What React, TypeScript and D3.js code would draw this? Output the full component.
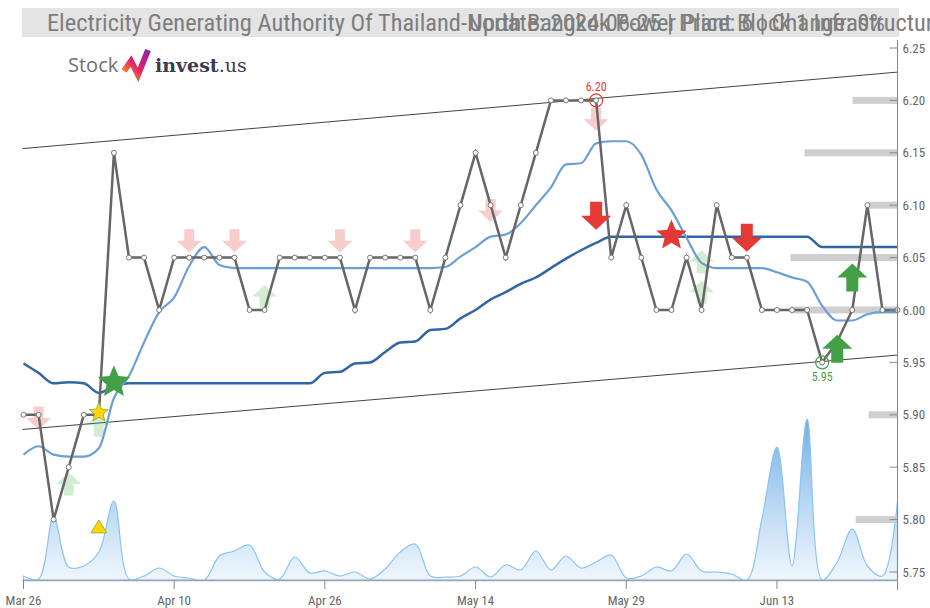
import { useEffect, useRef } from "react";
import * as d3 from "d3";

const W = 930;
const H = 608;

// trading-day index of each x tick, and its label
const tickDays = [0, 10, 20, 30, 40, 50];
const tickLabels = ["Mar 26", "Apr 10", "Apr 26", "May 14", "May 29", "Jun 13"];

const closes = [
  5.9, 5.9, 5.8, 5.85, 5.9, 5.9, 6.15, 6.05, 6.05, 6.0, 6.05, 6.05, 6.05, 6.05, 6.05,
  6.0, 6.0, 6.05, 6.05, 6.05, 6.05, 6.05, 6.0, 6.05, 6.05, 6.05, 6.05, 6.0, 6.05, 6.1,
  6.15, 6.1, 6.05, 6.1, 6.15, 6.2, 6.2, 6.2, 6.2, 6.05, 6.1, 6.05, 6.0, 6.0, 6.05,
  6.0, 6.1, 6.05, 6.05, 6.0, 6.0, 6.0, 6.0, 5.95, 5.97, 6.0, 6.1, 6.0, 6.0,
];

const fastMa = [
  5.862, 5.87, 5.862, 5.86, 5.86, 5.868, 5.916, 5.937, 5.969, 5.998, 6.012, 6.042, 6.06, 6.043, 6.04,
  6.04, 6.04, 6.04, 6.04, 6.04, 6.04, 6.04, 6.04, 6.04, 6.04, 6.04, 6.04, 6.04, 6.041, 6.051,
  6.06, 6.07, 6.072, 6.083, 6.1, 6.117, 6.139, 6.14, 6.159, 6.161, 6.161, 6.148, 6.115, 6.095, 6.069,
  6.045, 6.04, 6.04, 6.04, 6.04, 6.036, 6.031, 6.027, 6.004, 5.99, 5.99, 5.996, 5.998, 5.998,
];

const slowMa = [
  5.949, 5.94, 5.93, 5.931, 5.93, 5.921, 5.927, 5.93, 5.93, 5.93, 5.93, 5.93, 5.93, 5.93, 5.93,
  5.93, 5.93, 5.93, 5.93, 5.93, 5.94, 5.941, 5.949, 5.95, 5.96, 5.969, 5.97, 5.981, 5.982, 5.992,
  6.0, 6.01, 6.017, 6.025, 6.031, 6.04, 6.049, 6.057, 6.064, 6.07, 6.07, 6.07, 6.07, 6.07, 6.07,
  6.07, 6.07, 6.07, 6.07, 6.07, 6.07, 6.07, 6.07, 6.06, 6.06, 6.06, 6.06, 6.06, 6.06,
];

const volumes = [
  4000, 1000, 63000, 13000, 14000, 28000, 79000, 1000, 4000, 12000, 4000, 2000, 0, 24000, 29000,
  35000, 8000, 1000, 23000, 7000, 9000, 4000, 8000, 1000, 11000, 28000, 36000, 4000, 3000, 4000,
  13000, 3000, 15000, 10000, 29000, 10000, 24000, 12000, 18000, 25000, 2000, 4000, 13000, 9000, 26000,
  9000, 8000, 6000, 0, 61000, 133000, 14000, 161000, 0, 18000, 51000, 14000, 4000, 79000,
];

// trend channel: value at first and last day
const channelTop = [6.154, 6.227];
const channelBottom = [5.886, 5.957];

// support / resistance levels and their relative weight
const levels = [6.2, 6.15, 6.1, 6.05, 6.0, 5.9, 5.8];
const levelWeight = [0.42, 0.87, 0.27, 1.0, 1.0, 0.27, 0.39];

// signals: [day index, value]
const weakSell = [[1, 5.897], [11, 6.066], [14, 6.066], [21, 6.066], [26, 6.066], [31, 6.095], [38, 6.182]];
const weakBuy = [[3, 5.834], [5, 5.89], [16, 6.013], [45, 6.046], [45, 6.017]];
const strongSell = [[38, 6.09], [48, 6.069]];
const strongBuy = [[54, 5.963], [55, 6.031]];
const redStar = [[43, 6.071]];
const greenStar = [[6, 5.931]];
const yellowStar = [[5, 5.902]];
const yellowTriangle = [[5, 5.793]];
const highMark = [38, 6.2];
const lowMark = [53, 5.95];

const font = "'Liberation Sans Narrow', 'Roboto Condensed', 'Liberation Sans', Arial, sans-serif";

function arrowDown(w: number, h: number) {
  const s = w * 0.2;
  return `M${-s},${-h / 2}L${s},${-h / 2}L${s},0L${w / 2},0L0,${h / 2}L${-w / 2},0L${-s},0Z`;
}
function arrowUp(w: number, h: number) {
  const s = w * 0.2;
  return `M${-s},${h / 2}L${s},${h / 2}L${s},0L${w / 2},0L0,${-h / 2}L${-w / 2},0L${-s},0Z`;
}
function star(R: number) {
  const r = R * 0.45;
  const pts: string[] = [];
  for (let k = 0; k < 10; k++) {
    const a = -Math.PI / 2 + (k * Math.PI) / 5;
    const rr = k % 2 === 0 ? R : r;
    pts.push(`${rr * Math.cos(a)},${rr * Math.sin(a)}`);
  }
  return "M" + pts.join("L") + "Z";
}

export default function App() {
  const ref = useRef<SVGSVGElement>(null);

  useEffect(() => {
    const svg = d3.select(ref.current);
    svg.selectAll("*").remove();

    const x = d3.scaleLinear().domain([0, closes.length - 1]).range([23.5, 897.5]);
    const y = d3.scaleLinear().domain([5.75, 6.25]).range([572, 48]);
    const yVol = d3.scaleLinear().domain([0, 170000]).range([580, 410]);
    const barLen = d3.scaleLinear().domain([0, 1]).range([0, 107]);

    const defs = svg.append("defs");
    const grad = defs
      .append("linearGradient")
      .attr("id", "volGrad")
      .attr("gradientUnits", "userSpaceOnUse")
      .attr("x1", 0).attr("x2", 0).attr("y1", 410).attr("y2", 580);
    grad.append("stop").attr("offset", "0%").attr("stop-color", "#5fa6e0").attr("stop-opacity", 0.95);
    grad.append("stop").attr("offset", "100%").attr("stop-color", "#7cb5ec").attr("stop-opacity", 0.12);

    const logoGrad = defs.append("linearGradient").attr("id", "logoGrad").attr("x1", 0).attr("x2", 1).attr("y1", 1).attr("y2", 0);
    logoGrad.append("stop").attr("offset", "0%").attr("stop-color", "#f7931e");
    logoGrad.append("stop").attr("offset", "45%").attr("stop-color", "#e0206a");
    logoGrad.append("stop").attr("offset", "100%").attr("stop-color", "#8e24aa");

    // title bar (the name and the update line are drawn over each other, as in the source)
    svg.append("rect").attr("x", 22).attr("y", 8).attr("width", 877).attr("height", 29).attr("fill", "#e4e4e4");
    svg.append("text").attr("x", 47).attr("y", 31).attr("font-family", font).attr("font-size", 24.4).attr("fill", "#7d7d7d")
      .text("Electricity Generating Authority Of Thailand-North Bangkok Power Plant Block 1 Infrastructure Fund");
    svg.append("text").attr("x", 469).attr("y", 31).attr("font-family", font).attr("font-size", 24.4).attr("fill", "#7d7d7d")
      .attr("textLength", 416).attr("lengthAdjust", "spacing")
      .text("Update: 2024-06-25 | Price: 6 | Change: 0%");

    // logo
    svg.append("text").attr("x", 68).attr("y", 72).attr("font-family", "'Open Sans', sans-serif").attr("font-size", 20).attr("fill", "#707070").text("Stock");
    svg.append("path").attr("d", "M124,71L131,61L138,75L148,50").attr("fill", "none").attr("stroke", "url(#logoGrad)")
      .attr("stroke-width", 6).attr("stroke-linejoin", "miter");
    const inv = svg.append("text").attr("x", 155).attr("y", 72).attr("font-family", "'DejaVu Serif', serif").attr("font-size", 19).attr("fill", "#3b3b4f");
    inv.append("tspan").attr("font-weight", "bold").text("invest");
    inv.append("tspan").text(".us");

    // volume
    const volArea = d3.area<number>().x((_, i) => x(i)).y0(yVol(0)).y1((d) => yVol(d)).curve(d3.curveCatmullRom);
    svg.append("path").datum(volumes).attr("d", volArea).attr("fill", "url(#volGrad)").attr("stroke", "#8cc4ee").attr("stroke-width", 1.2);

    // trend channel
    const last = closes.length - 1;
    [channelTop, channelBottom].forEach((c) => {
      svg.append("line").attr("x1", x(0) - 1).attr("x2", x(last)).attr("y1", y(c[0])).attr("y2", y(c[1]))
        .attr("stroke", "#444").attr("stroke-width", 1);
    });

    // level bars
    svg.selectAll(".lvl").data(levels).join("rect").attr("class", "lvl")
      .attr("x", (d, i) => x(last) - barLen(levelWeight[i]))
      .attr("y", (d) => y(d) - 3.5)
      .attr("width", (d, i) => barLen(levelWeight[i]))
      .attr("height", 7)
      .attr("fill", "#cfcfcf");

    const line = d3.line<number>().x((_, i) => x(i)).y((d) => y(d));
    svg.append("path").datum(slowMa).attr("d", line.curve(d3.curveMonotoneX)).attr("fill", "none").attr("stroke", "#2f66a3").attr("stroke-width", 2.5);
    svg.append("path").datum(fastMa).attr("d", line.curve(d3.curveMonotoneX)).attr("fill", "none").attr("stroke", "#6c9fd2").attr("stroke-width", 2.2);

    // faded signals
    const put = (data: number[][], d: string, fill: string, opacity = 1, stroke = "none") => {
      svg.append("g").selectAll("path").data(data).join("path")
        .attr("transform", (p) => `translate(${x(p[0])},${y(p[1])})`)
        .attr("d", d).attr("fill", fill).attr("fill-opacity", opacity).attr("stroke", stroke);
    };
    put(weakSell, arrowDown(25, 23), "#e53935", 0.25);
    put(weakBuy, arrowUp(25, 23), "#4caf50", 0.25);

    svg.append("path").datum(closes).attr("d", line.curve(d3.curveLinear)).attr("fill", "none").attr("stroke", "#666").attr("stroke-width", 2.5);
    svg.append("g").selectAll("circle").data(closes).join("circle")
      .attr("cx", (_, i) => x(i)).attr("cy", (d) => y(d)).attr("r", 2.5)
      .attr("fill", "#fff").attr("stroke", "#777").attr("stroke-width", 1);

    put(strongSell, arrowDown(30, 28), "#e53935");
    put(strongBuy, arrowUp(30, 28), "#43a047");
    put(redStar, star(16), "#e53935");
    put(greenStar, star(17), "#43a047");
    put(yellowStar, star(10), "#ffd600", 1, "#9ab34a");
    put(yellowTriangle, "M0,-7L8,6L-8,6Z", "#ffd600", 1, "#9ab34a");

    // high / low marks
    svg.append("circle").attr("cx", x(highMark[0])).attr("cy", y(highMark[1])).attr("r", 6.5).attr("fill", "none").attr("stroke", "#e53935").attr("stroke-width", 1.2);
    svg.append("text").attr("x", x(highMark[0])).attr("y", y(highMark[1]) - 9).attr("text-anchor", "middle").attr("font-family", font)
      .attr("font-size", 12).attr("fill", "#e53935").text(highMark[1].toFixed(2));
    svg.append("circle").attr("cx", x(lowMark[0])).attr("cy", y(lowMark[1])).attr("r", 6.5).attr("fill", "none").attr("stroke", "#43a047").attr("stroke-width", 1.2);
    svg.append("text").attr("x", x(lowMark[0])).attr("y", y(lowMark[1]) + 19).attr("text-anchor", "middle").attr("font-family", font)
      .attr("font-size", 12).attr("fill", "#43a047").text(lowMark[1].toFixed(2));

    // right axis
    const ax = x(last);
    svg.append("line").attr("x1", ax).attr("x2", ax).attr("y1", 40).attr("y2", 590).attr("stroke", "#888").attr("stroke-width", 1);
    const yt = svg.append("g").selectAll("g").data(d3.range(5.75, 6.2501, 0.05)).join("g").attr("transform", (d) => `translate(0,${y(d)})`);
    yt.append("line").attr("x1", ax - 8).attr("x2", ax).attr("stroke", "#888");
    yt.append("text").attr("x", ax + 5).attr("dy", "0.35em").attr("font-family", font).attr("font-size", 13).attr("fill", "#666").text((d) => d.toFixed(2));

    // bottom axis
    svg.append("line").attr("x1", x(0) - 1).attr("x2", ax).attr("y1", 580.5).attr("y2", 580.5).attr("stroke", "#9aa7b3").attr("stroke-width", 1.5);
    const xt = svg.append("g").selectAll("g").data(tickDays).join("g").attr("transform", (d) => `translate(${x(d)},580)`);
    xt.append("line").attr("y2", 9).attr("stroke", "#888");
    xt.append("text").attr("y", 25).attr("text-anchor", "middle").attr("font-family", font).attr("font-size", 13).attr("fill", "#666")
      .text((_, i) => tickLabels[i]);
  }, []);

  return <svg ref={ref} width={W} height={H} style={{ position: "absolute", left: 0, top: 0, background: "#fff" }} />;
}
